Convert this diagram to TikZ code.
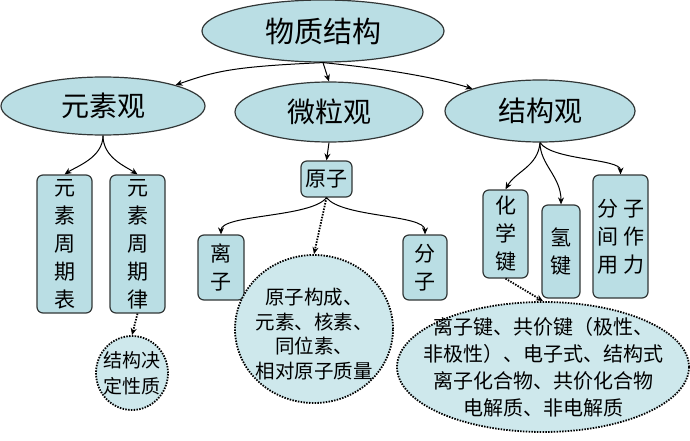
\documentclass[tikz,border=0pt]{standalone}
\usepackage{fontspec}
\setmainfont{Noto Sans CJK SC}
\usetikzlibrary{shapes.geometric, arrows.meta}
\definecolor{paleteal}{RGB}{186,222,228}
\definecolor{lightteal}{RGB}{206,232,236}
\definecolor{edgegray}{RGB}{50,55,55}

\begin{document}
\begin{tikzpicture}[x=1pt, y=-1pt, >={Stealth[length=7pt,width=6pt]},
    topic/.style={ellipse, draw=edgegray, line width=1.2pt, fill=paleteal, inner sep=0pt},
    card/.style={draw=edgegray, line width=1.2pt, rounded corners=6pt, fill=paleteal,
        inner sep=0pt, align=center, font=\fontsize{21}{28}\selectfont},
    bubble/.style={ellipse, draw=black, line width=1.8pt, dash pattern=on 1.5pt off 1.3pt,
        fill=lightteal, inner sep=0pt},
    bubbletext/.style={align=center, inner sep=0pt},
    link/.style={->, line width=1pt},
    dotlink/.style={->, line width=1.8pt, dash pattern=on 1.5pt off 1.3pt}]
    \useasboundingbox (0,0) rectangle (690,441);

    % 顶层与三观
    \node[topic, minimum width=242, minimum height=62, font=\fontsize{29}{34}\selectfont] (root) at (323,31) {物质结构};
    \node[topic, minimum width=204, minimum height=58, font=\fontsize{28}{32}\selectfont] (elem) at (103,106) {元素观};
    \node[topic, minimum width=188, minimum height=60, font=\fontsize{28}{32}\selectfont] (part) at (329,112) {微粒观};
    \node[topic, minimum width=190, minimum height=62, font=\fontsize{28}{32}\selectfont] (struc) at (540,111) {结构观};

    % 元素观
    \node[card, minimum width=55, minimum height=138] (table) at (64.5,244) {元\\素\\周\\期\\表};
    \node[card, minimum width=55, minimum height=138] (law) at (137.5,244) {元\\素\\周\\期\\律};
    \node[bubble, minimum width=72, minimum height=74] (naturebub) at (132,373) {};
    \node[bubbletext, font=\fontsize{19}{26}\selectfont] (naturetxt) at (naturebub) {结构决\\定性质};

    % 微粒观
    \node[card, minimum width=51, minimum height=36] (atom) at (326.5,179) {原子};
    \node[card, minimum width=46, minimum height=65] (ion) at (221,267.5) {离\\子};
    \node[card, minimum width=44, minimum height=65] (mol) at (425,267.5) {分\\子};
    \node[bubble, minimum width=158, minimum height=148] (atombub) at (314,329) {};
    \node[bubbletext, font=\fontsize{19.5}{24.5}\selectfont] (atomtxt) at (314,334) {原子构成、\\元素、核素、\\同位素、\\相对原子质量};

    % 结构观
    \node[card, minimum width=45, minimum height=88] (bond) at (505.5,234) {化\\学\\键};
    \node[card, minimum width=38, minimum height=93] (hbond) at (561,251.5) {氢\\键};
    \node[card, minimum width=55, minimum height=123] (force) at (620.5,236.5) {分\hspace{5pt}子\\间\hspace{5pt}作\\用\hspace{5pt}力};
    \node[bubble, minimum width=292, minimum height=130] (bondbub) at (543,367) {};
    \node[bubbletext, font=\fontsize{20}{27}\selectfont] (bondtxt) at (bondbub) {离子键、共价键（极性、\\非极性）、电子式、结构式\\离子化合物、共价化合物\\电解质、非电解质};

    \draw[link] (root.south) .. controls +(-90,4) and +(40,-14) .. (elem.north east);
    \draw[link] (root.south) -- (part.north);
    \draw[link] (root.south) .. controls +(60,6) and +(-40,-12) .. (struc.north west);

    \draw[link] (elem.south) .. controls +(0,22) and +(12,-8) .. (table.north);
    \draw[link] (elem.south) .. controls +(0,22) and +(-12,-8) .. (law.north);
    \draw[dotlink] (law.south) -- (naturebub.north);

    \draw[link] (part.south) -- (atom.north);
    \draw[link] (atom.south) .. controls +(-15,20) and +(0,-20) .. (ion.north);
    \draw[link] (atom.south) .. controls +(15,20) and +(0,-20) .. (mol.north);
    \draw[dotlink] (atom.south) -- (atombub.north);

    \draw[link] (struc.south) .. controls +(-2,24) and +(10,-18) .. (bond.north);
    \draw[link] (struc.south) .. controls +(0,22) and +(0,-28) .. (hbond.north);
    \draw[link] (struc.south) .. controls +(12,18) and +(0,-16) .. (force.north);
    \draw[dotlink] (bond.south) -- (bondbub.north);
\end{tikzpicture}
\end{document}
